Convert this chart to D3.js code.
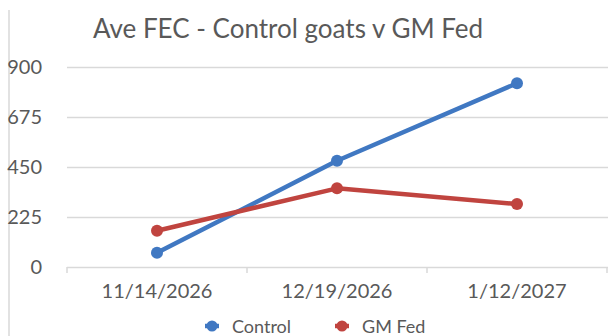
<!DOCTYPE html>
<html>
<head>
<meta charset="utf-8">
<script src="https://cdn.jsdelivr.net/npm/d3@7"></script>
<style>
  html, body { margin: 0; padding: 0; background: #ffffff; }
  svg { display: block; }
  text { font-family: Lato, "Open Sans", sans-serif; fill: #595959; }
</style>
</head>
<body>
<svg id="chart" width="608" height="336"></svg>
<script>
// Average faecal egg count per sampling date
const dates = ["11/14/2026", "12/19/2026", "1/12/2027"];
const controlFEC = [64, 478, 827];
const gmFedFEC = [163, 354, 283];
const yTicks = [0, 225, 450, 675, 900];
const seriesNames = ["Control", "GM Fed"];
const seriesColors = ["#4078c2", "#c0443f"];

const svg = d3.select("#chart");
const W = 608, H = 336;
const plot = { left: 67, right: 607, top: 67, bottom: 267 };

const x = d3.scalePoint().domain(dates).range([plot.left, plot.right]).padding(0.5);
const y = d3.scaleLinear().domain([0, 900]).range([plot.bottom, plot.top]);

// chart frame edge on the left
svg.append("line")
  .attr("x1", 9).attr("x2", 9).attr("y1", 10).attr("y2", H)
  .attr("stroke", "#d9d9d9").attr("stroke-width", 1.5);

// title
svg.append("text")
  .attr("x", 288).attr("y", 38)
  .attr("text-anchor", "middle")
  .style("font-size", "26px")
  .text("Ave FEC - Control goats v GM Fed");

// horizontal gridlines and y labels
const yAxis = d3.axisLeft(y).tickValues(yTicks).tickSize(-(W - plot.left)).tickPadding(25).tickFormat(d3.format("d"));
const gy = svg.append("g").attr("transform", `translate(${plot.left},0)`).call(yAxis);
gy.select(".domain").remove();
gy.selectAll(".tick line").attr("stroke", "#d9d9d9").attr("stroke-width", 1.5);
gy.selectAll(".tick text").style("font-size", "20px").attr("fill", "#595959");

// category axis with boundary ticks
const step = x.step();
const bounds = d3.range(dates.length + 1).map(i => x(dates[0]) - step / 2 + i * step);
const gx = svg.append("g");
gx.selectAll("line.bound").data(bounds).join("line")
  .attr("class", "bound")
  .attr("x1", d => d).attr("x2", d => d)
  .attr("y1", plot.bottom).attr("y2", plot.bottom + 6)
  .attr("stroke", "#d9d9d9").attr("stroke-width", 1.5);
gx.selectAll("text").data(dates).join("text")
  .attr("x", d => x(d)).attr("y", 298)
  .attr("text-anchor", "middle")
  .style("font-size", "20px")
  .text(d => d);

// series lines and markers
const series = [controlFEC, gmFedFEC];
const line = d3.line().x((d, i) => x(dates[i])).y(d => y(d));
series.forEach((vals, s) => {
  const g = svg.append("g");
  g.append("path")
    .datum(vals)
    .attr("d", line)
    .attr("fill", "none")
    .attr("stroke", seriesColors[s])
    .attr("stroke-width", 4.5)
    .attr("stroke-linejoin", "round");
  g.selectAll("circle").data(vals).join("circle")
    .attr("cx", (d, i) => x(dates[i]))
    .attr("cy", d => y(d))
    .attr("r", 6)
    .attr("fill", seriesColors[s]);
});

// legend
const legendX = [212, 342];
const leg = svg.append("g");
seriesNames.forEach((name, s) => {
  const g = leg.append("g").attr("transform", `translate(${legendX[s]},326)`);
  g.append("line").attr("x1", -7).attr("x2", 7).attr("y1", 0).attr("y2", 0)
    .attr("stroke", seriesColors[s]).attr("stroke-width", 4.5);
  g.append("circle").attr("r", 5.5).attr("fill", seriesColors[s]);
  g.append("text").attr("x", 20).attr("y", 7).style("font-size", "18px").text(name);
});
</script>
</body>
</html>
